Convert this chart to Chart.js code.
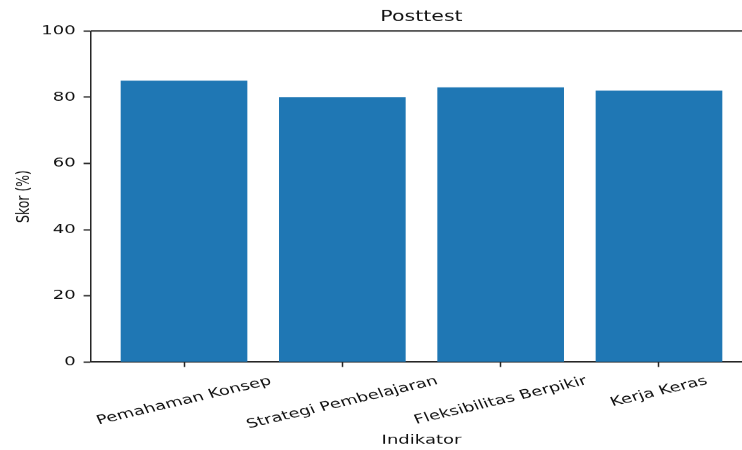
<!DOCTYPE html>
<html>
<head>
<meta charset="utf-8">
<title>Posttest</title>
<script src="https://cdn.jsdelivr.net/npm/chart.js@4.4.1/dist/chart.umd.min.js"></script>
<style>
  html, body { margin: 0; padding: 0; width: 742px; height: 450px; overflow: hidden; background: #ffffff; }
  /* The figure is laid out on a taller canvas and compressed vertically,
     which gives the text its wide, flattened look. */
  #wrap { width: 843px; height: 643px; transform: scaleY(0.69984); transform-origin: 0 0; filter: blur(0.35px); }
  canvas { display: block; }
</style>
</head>
<body>
<div id="wrap"><canvas id="chart" width="843" height="643" style="width:843px;height:643px"></canvas></div>
<script>
// Data
const categories = ['Pemahaman Konsep', 'Strategi Pembelajaran', 'Fleksibilitas Berpikir', 'Kerja Keras'];
const scores = [85, 80, 83, 82];
const yTickValues = [0, 20, 40, 60, 80, 100];
const chartTitle = 'Posttest';
const xAxisTitle = 'Indikator';
const yAxisTitle = 'Skor (%)';

// Style
const BAR_COLOR = '#1f77b4';
const TEXT_COLOR = '#111111';
const LINE_COLOR = '#262626';
const FONT = 'DejaVu Sans';
const TICK_SIZE = 18;
const LABEL_ANGLE = 18.5 * Math.PI / 180;

Chart.defaults.font.family = FONT;
Chart.defaults.color = TEXT_COLOR;

// Category labels under the x axis, rotated and centred on their ticks,
// plus the top spine of the axes box.
const axisDecor = {
  id: 'axisDecor',
  afterDraw(chart) {
    const { ctx, chartArea, scales } = chart;
    const xs = scales.x;
    ctx.save();
    ctx.font = TICK_SIZE + 'px "' + FONT + '"';
    ctx.fillStyle = TEXT_COLOR;
    ctx.textAlign = 'center';
    ctx.textBaseline = 'middle';
    const lineH = TICK_SIZE * 1.17;
    const top = chartArea.bottom + 16.6;
    categories.forEach((label, i) => {
      const w = ctx.measureText(label).width;
      const halfH = (w / 2) * Math.sin(LABEL_ANGLE) + (lineH / 2) * Math.cos(LABEL_ANGLE);
      ctx.save();
      ctx.translate(xs.getPixelForValue(i), top + halfH);
      ctx.rotate(-LABEL_ANGLE);
      ctx.fillText(label, 0, 0);
      ctx.restore();
    });
    ctx.strokeStyle = LINE_COLOR;
    ctx.lineWidth = 2;
    ctx.beginPath();
    ctx.moveTo(chartArea.left, chartArea.top);
    ctx.lineTo(chartArea.right, chartArea.top);
    ctx.stroke();
    ctx.restore();
  }
};

new Chart(document.getElementById('chart'), {
  type: 'bar',
  data: {
    datasets: [{
      data: scores.map((v, i) => ({ x: i, y: v })),
      backgroundColor: BAR_COLOR,
      borderWidth: 0,
      barPercentage: 0.8,
      categoryPercentage: 1.0
    }]
  },
  options: {
    responsive: false,
    animation: false,
    devicePixelRatio: 1,
    layout: { padding: { left: 0, right: 90.6, top: 0, bottom: 0 } },
    plugins: {
      legend: { display: false },
      tooltip: { enabled: false },
      title: {
        display: true,
        fullSize: false,
        text: chartTitle,
        color: TEXT_COLOR,
        font: { family: FONT, size: 20.5, weight: 'normal' },
        padding: { top: 12.3, bottom: 7.4 }
      }
    },
    scales: {
      x: {
        type: 'linear',
        min: -0.59,
        max: 3.59,
        bounds: 'data',
        offset: false,
        afterBuildTicks(scale) {
          scale.ticks = categories.map((_, i) => ({ value: i }));
        },
        afterFit(scale) { scale.height = 125.7; },
        ticks: { display: false, autoSkip: false },
        grid: {
          offset: false,
          drawOnChartArea: false,
          drawTicks: true,
          tickLength: 7,
          tickWidth: 1.5,
          tickColor: LINE_COLOR
        },
        border: { display: true, color: LINE_COLOR, width: 2 },
        title: {
          display: true,
          text: xAxisTitle,
          color: TEXT_COLOR,
          font: { family: FONT, size: 18 },
          padding: { top: 0, bottom: 3 }
        }
      },
      y: {
        min: 0,
        max: 100,
        afterBuildTicks(scale) {
          scale.ticks = yTickValues.map(v => ({ value: v }));
        },
        afterFit(scale) { scale.width = 90.6; },
        ticks: {
          color: TEXT_COLOR,
          font: { family: FONT, size: TICK_SIZE },
          padding: 8
        },
        grid: {
          drawOnChartArea: false,
          drawTicks: true,
          tickLength: 7,
          tickWidth: 2,
          tickColor: LINE_COLOR
        },
        border: { display: true, color: LINE_COLOR, width: 1.5 },
        title: {
          display: true,
          text: yAxisTitle,
          color: TEXT_COLOR,
          font: { family: FONT, size: 17.7 },
          padding: { top: 13.4, bottom: 0 }
        }
      }
    }
  },
  plugins: [axisDecor]
});
</script>
</body>
</html>
